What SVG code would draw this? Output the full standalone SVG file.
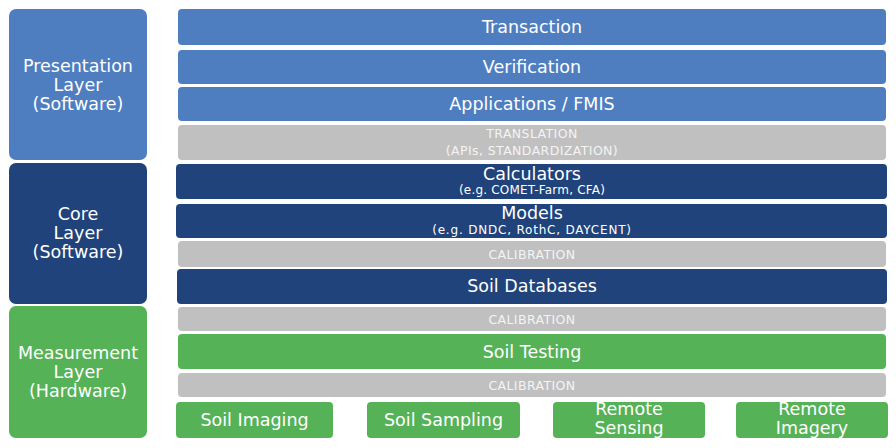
<svg xmlns="http://www.w3.org/2000/svg" width="896" height="448" viewBox="0 0 896 448">
<style>
.lb{fill:#4F7EC0}
.db{fill:#1F437A}
.gr{fill:#56B257}
.gy{fill:#C0C0C0}
text{font-family:"DejaVu Sans","Liberation Sans",sans-serif;fill:#FFFFFF;text-anchor:middle}
.m{font-size:17.5px}
.s{font-size:12px;letter-spacing:0.2px}
.s2{font-size:12px;letter-spacing:0.8px}
.c{font-size:12.5px;letter-spacing:0.4px;fill:#F4F4F4}
</style>
<rect width="896" height="448" fill="#FFFFFF"/>
<g id="presentation-layer"><rect class="lb" x="9" y="9" width="138" height="151" rx="7"/><text class="m" x="78" y="72">Presentation</text><text class="m" x="78" y="91">Layer</text><text class="m" x="78" y="110">(Software)</text></g>
<g id="core-layer"><rect class="db" x="9" y="163" width="138" height="141" rx="7"/><text class="m" x="78" y="220">Core</text><text class="m" x="78" y="239">Layer</text><text class="m" x="78" y="258">(Software)</text></g>
<g id="measurement-layer"><rect class="gr" x="9" y="306" width="138" height="132" rx="7"/><text class="m" x="78" y="359">Measurement</text><text class="m" x="78" y="378">Layer</text><text class="m" x="78" y="397">(Hardware)</text></g>
<g id="transaction"><rect class="lb" x="178" y="9" width="708" height="36" rx="4"/><text class="m" x="532" y="33">Transaction</text></g>
<g id="verification"><rect class="lb" x="178" y="50" width="708" height="34" rx="4"/><text class="m" x="532" y="73">Verification</text></g>
<g id="applications"><rect class="lb" x="178" y="87" width="708" height="34" rx="4"/><text class="m" x="532" y="110">Applications / FMIS</text></g>
<g id="translation"><rect class="gy" x="178" y="125" width="708" height="35" rx="4"/><text class="c" x="532" y="138">TRANSLATION</text><text class="c" x="532" y="155">(APIs, STANDARDIZATION)</text></g>
<g id="calculators"><rect class="db" x="176" y="164" width="711" height="35" rx="4"/><text class="m" x="532" y="180">Calculators</text><text class="s" x="532" y="194">(e.g. COMET-Farm, CFA)</text></g>
<g id="models"><rect class="db" x="176" y="204" width="711" height="34" rx="4"/><text class="m" x="532" y="219">Models</text><text class="s2" x="532" y="234">(e.g. DNDC, RothC, DAYCENT)</text></g>
<g id="calibration-1"><rect class="gy" x="178" y="241" width="708" height="26" rx="4"/><text class="c" x="532" y="258.5">CALIBRATION</text></g>
<g id="soil-databases"><rect class="db" x="177" y="269" width="710" height="35" rx="4"/><text class="m" x="532" y="292">Soil Databases</text></g>
<g id="calibration-2"><rect class="gy" x="178" y="307" width="708" height="24" rx="4"/><text class="c" x="532" y="324">CALIBRATION</text></g>
<g id="soil-testing"><rect class="gr" x="178" y="334" width="708" height="35" rx="4"/><text class="m" x="532" y="358">Soil Testing</text></g>
<g id="calibration-3"><rect class="gy" x="178" y="373" width="708" height="24" rx="4"/><text class="c" x="532" y="390">CALIBRATION</text></g>
<g id="soil-imaging"><rect class="gr" x="176" y="402" width="157" height="36" rx="4"/><text class="m" x="254.5" y="426">Soil Imaging</text></g>
<g id="soil-sampling"><rect class="gr" x="367" y="402" width="153" height="36" rx="4"/><text class="m" x="443.5" y="426">Soil Sampling</text></g>
<g id="remote-sensing"><rect class="gr" x="553" y="402" width="152" height="36" rx="4"/><text class="m" x="629" y="415">Remote</text><text class="m" x="629" y="434">Sensing</text></g>
<g id="remote-imagery"><rect class="gr" x="736" y="402" width="152" height="36" rx="4"/><text class="m" x="812" y="415">Remote</text><text class="m" x="812" y="434">Imagery</text></g>
<g id="connectors"></g>
</svg>
